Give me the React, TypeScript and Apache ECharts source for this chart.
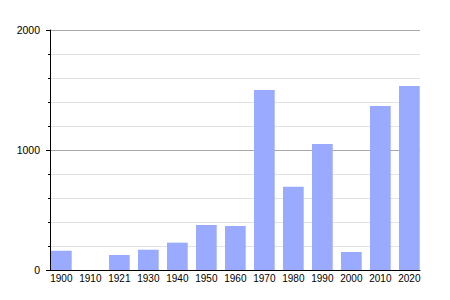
import React, { useEffect, useRef } from "react";
import * as echarts from "echarts";

const categories = ["1900", "1910", "1921", "1930", "1940", "1950", "1960", "1970", "1980", "1990", "2000", "2010", "2020"];
const population = [161, 0, 125, 169, 228, 375, 367, 1500, 694, 1050, 150, 1367, 1533];
const yTicks = { min: 0, max: 2000, interval: 1000 };

const FONT = "'Liberation Sans', Arial, sans-serif";

export default function App() {
  const ref = useRef<HTMLDivElement>(null);
  useEffect(() => {
    if (!ref.current) return;
    const chart = echarts.init(ref.current, undefined, { renderer: "svg" });
    chart.setOption({
      animation: false,
      backgroundColor: "#ffffff",
      textStyle: { fontFamily: FONT },
      grid: [
        { left: 50, right: 30, top: 30, bottom: 30, containLabel: false },
        { left: 46.85, width: 377, top: 30, bottom: 30, containLabel: false },
      ],
      xAxis: [
        {
          gridIndex: 0,
          type: "value",
          min: 0,
          max: 1,
          axisLine: { show: true, onZero: false, lineStyle: { color: "#000", width: 1 } },
          axisTick: { show: false },
          axisLabel: { show: false },
          splitLine: { show: false },
        },
        {
          gridIndex: 1,
          type: "category",
          data: categories,
          boundaryGap: true,
          axisLine: { show: false },
          axisTick: { show: false },
          axisLabel: { color: "#000", fontSize: 10, fontFamily: FONT, margin: 3, interval: 0 },
          splitLine: { show: false },
        },
      ],
      yAxis: [
        {
          gridIndex: 0,
          type: "value",
          min: yTicks.min,
          max: yTicks.max,
          interval: yTicks.interval,
          axisLine: { show: true, lineStyle: { color: "#000", width: 1 } },
          axisTick: { show: true, length: 4, lineStyle: { color: "#000" } },
          minorTick: { show: true, splitNumber: 5, length: 2, lineStyle: { color: "#000" } },
          axisLabel: {
            color: "#000",
            fontSize: 10.5,
            fontFamily: FONT,
            margin: 10,
            formatter: (v: number) => String(v),
          },
          splitLine: { show: true, lineStyle: { color: "#a8a8a8", width: 1 } },
          minorSplitLine: { show: true, lineStyle: { color: "#e2e2e2", width: 1 } },
        },
        {
          gridIndex: 1,
          type: "value",
          min: yTicks.min,
          max: yTicks.max,
          show: false,
        },
      ],
      series: [
        {
          type: "bar",
          xAxisIndex: 1,
          yAxisIndex: 1,
          data: population,
          barWidth: 20.7,
          itemStyle: { color: "#99aaff" },
          z: 3,
        },
      ],
    });
    return () => chart.dispose();
  }, []);
  return (
    <div
      ref={ref}
      style={{ position: "fixed", left: 0, top: 0, width: 450, height: 300 }}
    />
  );
}
